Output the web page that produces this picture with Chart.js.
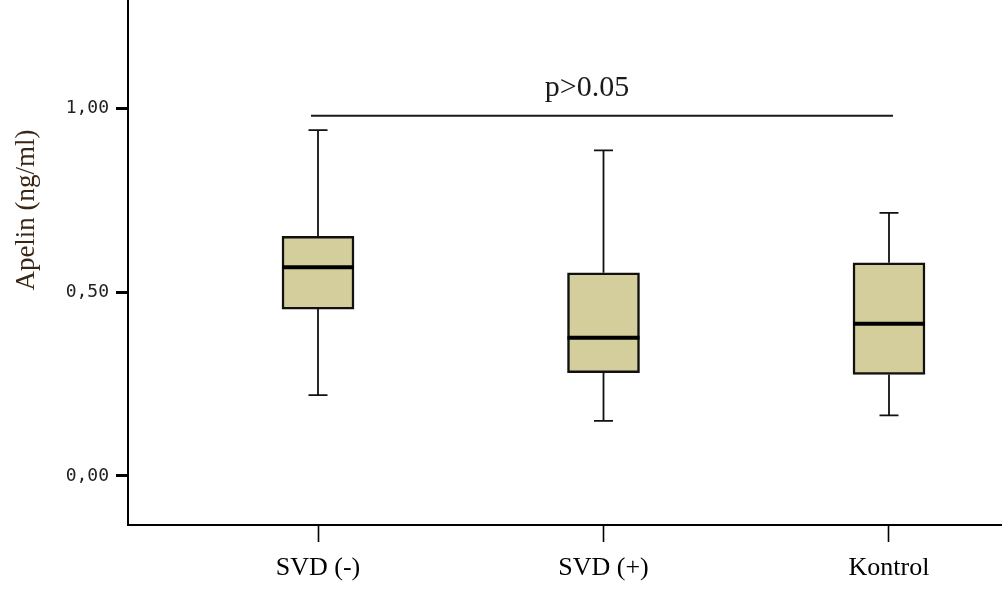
<!DOCTYPE html>
<html>
<head>
<meta charset="utf-8">
<script src="https://cdn.jsdelivr.net/npm/chart.js@4/dist/chart.umd.min.js"></script>
<style>
  html, body { margin: 0; padding: 0; background: #fff; }
  #wrap { width: 1002px; height: 593px; }
</style>
</head>
<body>
<div id="wrap"><canvas id="c" width="1002" height="593"></canvas></div>
<script>
// Apelin levels per group (ng/ml): five-number summaries
const groups  = ['SVD (-)', 'SVD (+)', 'Kontrol'];
const whiskerLow  = [0.220, 0.150, 0.165];
const quartile1   = [0.454, 0.281, 0.276];
const medians     = [0.568, 0.376, 0.414];
const quartile3   = [0.652, 0.553, 0.580];
const whiskerHigh = [0.941, 0.886, 0.716];

// y-axis ticks and the comparison bracket
const yTicks = [0, 0.5, 1.0];
const bracketLevel = 0.98;
const bracketText = 'p>0.05';
const axisTitle = 'Apelin (ng/ml)';

const serif = '"Liberation Serif", "Times New Roman", serif';
const boxFill = '#d3ce9b';
const ink = '#111';

// whiskers, caps and medians drawn through the chart scales
const boxPlotMarks = {
  id: 'boxPlotMarks',
  beforeDatasetsDraw(chart) {
    const { ctx, scales: { x, y } } = chart;
    ctx.save();
    ctx.strokeStyle = ink;
    ctx.lineWidth = 1.8;
    const capHalf = 9.5;
    groups.forEach((g, i) => {
      const px = x.getPixelForValue(i);
      const pLo = y.getPixelForValue(whiskerLow[i]);
      const pHi = y.getPixelForValue(whiskerHigh[i]);
      const pQ1 = y.getPixelForValue(quartile1[i]);
      const pQ3 = y.getPixelForValue(quartile3[i]);
      ctx.beginPath();
      ctx.moveTo(px, pHi); ctx.lineTo(px, pQ3);
      ctx.moveTo(px, pQ1); ctx.lineTo(px, pLo);
      ctx.moveTo(px - capHalf, pHi); ctx.lineTo(px + capHalf, pHi);
      ctx.moveTo(px - capHalf, pLo); ctx.lineTo(px + capHalf, pLo);
      ctx.stroke();
    });
    ctx.restore();
  },
  afterDatasetsDraw(chart) {
    const { ctx, scales: { x, y } } = chart;
    ctx.save();
    // medians
    ctx.strokeStyle = '#000';
    ctx.lineWidth = 4;
    const half = 36;
    groups.forEach((g, i) => {
      const px = x.getPixelForValue(i);
      const pm = y.getPixelForValue(medians[i]);
      ctx.beginPath();
      ctx.moveTo(px - half, pm); ctx.lineTo(px + half, pm);
      ctx.stroke();
    });
    // comparison bracket across all groups
    const xa = x.getPixelForValue(0) - 7;
    const xb = x.getPixelForValue(groups.length - 1) + 4;
    const yb = y.getPixelForValue(bracketLevel);
    ctx.strokeStyle = '#1a1a1a';
    ctx.lineWidth = 2;
    ctx.beginPath();
    ctx.moveTo(xa, yb); ctx.lineTo(xb, yb);
    ctx.stroke();
    ctx.fillStyle = '#1a1a1a';
    ctx.font = '30px ' + serif;
    ctx.textAlign = 'center';
    ctx.textBaseline = 'alphabetic';
    ctx.fillText(bracketText, (xa + xb) / 2 - 15, yb - 20);
    // y-axis title
    ctx.save();
    ctx.translate(34, 210);
    ctx.rotate(-Math.PI / 2);
    ctx.fillStyle = '#3b2614';
    ctx.font = '27px ' + serif;
    ctx.textAlign = 'center';
    ctx.textBaseline = 'alphabetic';
    ctx.fillText(axisTitle, 0, 0);
    ctx.restore();
    ctx.restore();
  }
};

new Chart(document.getElementById('c'), {
  type: 'bar',
  data: {
    datasets: [{
      data: groups.map((g, i) => ({ x: i, y: [quartile1[i], quartile3[i]] })),
      backgroundColor: boxFill,
      borderColor: ink,
      borderWidth: 2.5,
      borderSkipped: false,
      barThickness: 72
    }]
  },
  options: {
    responsive: false,
    animation: false,
    events: [],
    layout: { padding: 0 },
    plugins: { legend: { display: false }, tooltip: { enabled: false } },
    scales: {
      x: {
        type: 'linear',
        offset: false,
        min: -0.6655,
        max: 2.3958,
        afterBuildTicks(s) { s.ticks = groups.map((g, i) => ({ value: i })); },
        afterFit(s) { s.height = 68; s.paddingLeft = 0; s.paddingRight = 0; },
        ticks: {
          callback: (v) => groups[v],
          color: '#000',
          font: { family: serif, size: 26 },
          padding: 11,
          maxRotation: 0,
          autoSkip: false
        },
        grid: { offset: false, drawOnChartArea: false, drawTicks: true, tickLength: 17, tickWidth: 1.6, tickColor: '#000' },
        border: { display: true, color: '#000', width: 2 }
      },
      y: {
        type: 'linear',
        min: -0.1335,
        max: 1.2952,
        afterBuildTicks(s) { s.ticks = yTicks.map(v => ({ value: v })); },
        afterFit(s) { s.width = 128; s.paddingTop = 0; s.paddingBottom = 0; },
        ticks: {
          callback: (v) => v.toFixed(2).replace('.', ','),
          color: '#222',
          font: { family: '"DejaVu Sans Mono", monospace', size: 18 },
          padding: 7
        },
        grid: { drawOnChartArea: false, drawTicks: true, tickLength: 12, tickWidth: 3, tickColor: '#000' },
        border: { display: true, color: '#000', width: 2 }
      }
    }
  },
  plugins: [boxPlotMarks]
});
</script>
</body>
</html>
